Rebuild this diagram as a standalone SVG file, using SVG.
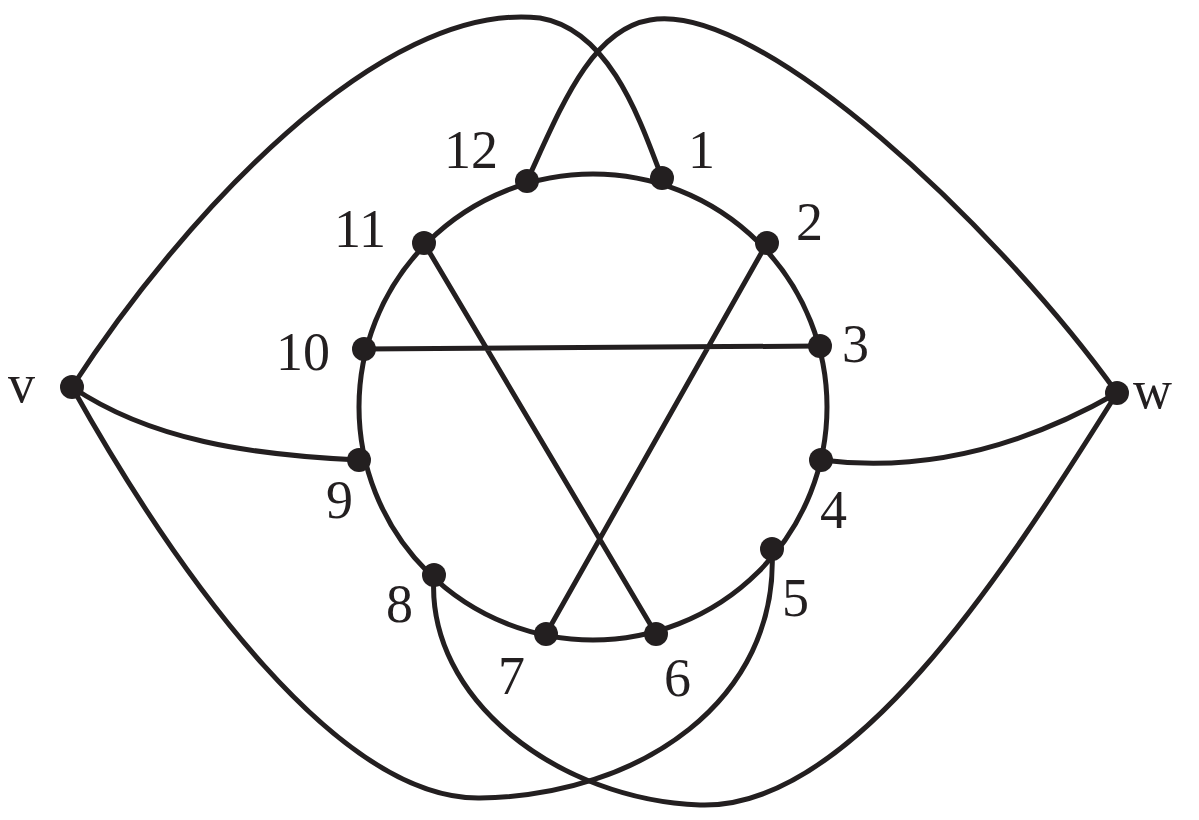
<svg xmlns="http://www.w3.org/2000/svg" width="1199" height="820" viewBox="0 0 1199 820">
<style>
.e{fill:none;stroke:#231f20;stroke-width:5}
.n{fill:#231f20}
text{font-family:"Liberation Serif","Times New Roman",serif;font-size:54px;fill:#231f20}
</style>
<rect width="1199" height="820" fill="#fff"/>
<g id="connectors">
<ellipse class="e" cx="593" cy="407" rx="234" ry="233"/>
<path class="e" d="M527,181 C560,110 590,30 650,20 C760,0 1000,230 1117,393"/>
<path class="e" d="M662,178 C640,120 610,30 540,18 C380,0 180,220 72,387"/>
<path class="e" d="M72,387 C150,440 250,455 359,460"/>
<path class="e" d="M821,460 C900,470 1000,460 1117,393"/>
<path class="e" d="M72,387 C180,580 340,800 480,798 C640,796 780,700 772,549"/>
<path class="e" d="M434,575 C425,700 560,800 700,805 C850,810 1000,580 1117,393"/>
<path class="e" d="M424,243 L656,634 M767,243 L546,634 M364,349 L820,346"/>
</g>
<g id="v"><circle class="n" cx="72" cy="387" r="12"/><text x="8" y="402">v</text></g>
<g id="w"><circle class="n" cx="1117" cy="393" r="12"/><text x="1133" y="408">w</text></g>
<g id="n1"><circle class="n" cx="662" cy="178" r="12"/><text x="688" y="168">1</text></g>
<g id="n2"><circle class="n" cx="767" cy="243" r="12"/><text x="796" y="240">2</text></g>
<g id="n3"><circle class="n" cx="820" cy="346" r="12"/><text x="842" y="362">3</text></g>
<g id="n4"><circle class="n" cx="821" cy="460" r="12"/><text x="820" y="528">4</text></g>
<g id="n5"><circle class="n" cx="772" cy="549" r="12"/><text x="782" y="616">5</text></g>
<g id="n6"><circle class="n" cx="656" cy="634" r="12"/><text x="664" y="696">6</text></g>
<g id="n7"><circle class="n" cx="546" cy="634" r="12"/><text x="498" y="694">7</text></g>
<g id="n8"><circle class="n" cx="434" cy="575" r="12"/><text x="386" y="622">8</text></g>
<g id="n9"><circle class="n" cx="359" cy="460" r="12"/><text x="326" y="518">9</text></g>
<g id="n10"><circle class="n" cx="364" cy="349" r="12"/><text x="276" y="370">10</text></g>
<g id="n11"><circle class="n" cx="424" cy="243" r="12"/><text x="334" y="247">11</text></g>
<g id="n12"><circle class="n" cx="527" cy="181" r="12"/><text x="444" y="168">12</text></g>
</svg>
